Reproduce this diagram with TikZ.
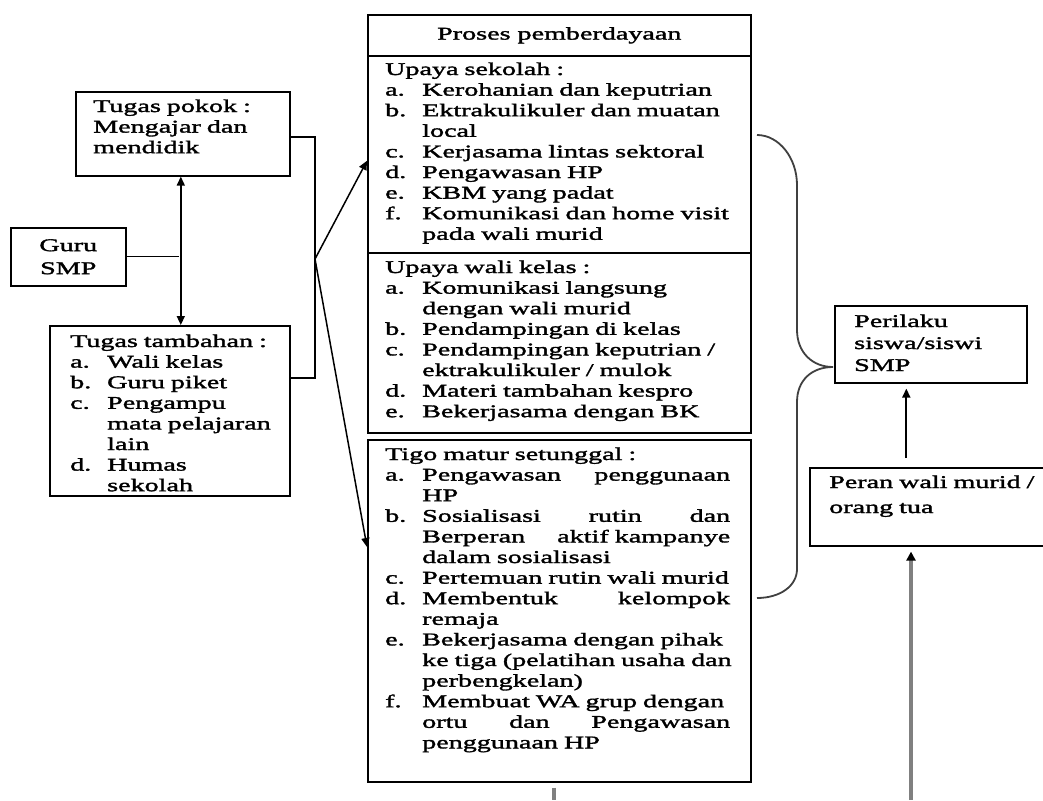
\documentclass[tikz,border=0pt]{standalone}
\usepackage{fontspec}
\setmainfont{Liberation Serif}[FakeStretch=1.57,FakeBold=1.8]
\usepackage{tikz}
\usetikzlibrary{arrows.meta,positioning,calc}

\newcommand{\lbl}[1]{\makebox[37pt][l]{#1}}
\newcommand{\cont}{\hspace*{37pt}}
\newcommand{\jl}[1]{\makebox[308pt][l]{#1}}

\begin{document}
\begin{tikzpicture}[x=1pt,y=-1pt,
  every node/.style={font=\fontsize{17.9}{20.6}\selectfont},
  frame/.style={draw,line width=1.6pt,inner sep=0pt,anchor=north west},
  txt/.style={inner sep=0pt,anchor=base west,align=left,text width=#1},
  tip/.style={-{Triangle[length=9pt,width=8pt]}},
  arr/.style={line width=1.5pt,tip},
  grayline/.style={line width=4pt,draw=black!50},
  brace/.style={line width=1.8pt,draw=black!75}]
\useasboundingbox (0,0) rectangle (1043,800);

% frames
\node[frame,minimum width=214,minimum height=84] (pokok) at (75,91) {};
\node[frame,minimum width=115,minimum height=58,align=center] (guru) at (10,227) {Guru\\[2.4pt] SMP};
\node[frame,minimum width=240,minimum height=170] (tambahan) at (49,325) {};
\node[frame,minimum width=383,minimum height=41] (header) at (367,14) {Proses pemberdayaan};
\node[frame,minimum width=383,minimum height=197] (sekolah) at (367,55) {};
\node[frame,minimum width=383,minimum height=180] (wali) at (367,252) {};
\node[frame,minimum width=383,minimum height=342] (tigo) at (367,439) {};
\node[frame,minimum width=192,minimum height=77] (perilaku) at (834,305) {};
\node[frame,minimum width=237,minimum height=78] (peran) at (809,467) {};

% texts
\node[txt=190] (pokoktxt) at (93,112) {Tugas pokok :\\ Mengajar dan\\ mendidik};
\node[txt=215] (tambahantxt) at (70,347) {Tugas tambahan :\\
  \lbl{a.}Wali kelas\\
  \lbl{b.}Guru piket\\
  \lbl{c.}Pengampu\\
  \cont mata pelajaran\\
  \cont lain\\
  \lbl{d.}Humas\\
  \cont sekolah};
\node[txt=362] (sekolahtxt) at (385,75) {Upaya sekolah :\\
  \lbl{a.}Kerohanian dan keputrian\\
  \lbl{b.}Ektrakulikuler dan muatan\\
  \cont local\\
  \lbl{c.}Kerjasama lintas sektoral\\
  \lbl{d.}Pengawasan HP\\
  \lbl{e.}KBM yang padat\\
  \lbl{f.}Komunikasi dan home visit\\
  \cont pada wali murid};
\node[txt=362] (walitxt) at (385,273) {Upaya wali kelas :\\
  \lbl{a.}Komunikasi langsung\\
  \cont dengan wali murid\\
  \lbl{b.}Pendampingan di kelas\\
  \lbl{c.}Pendampingan keputrian /\\
  \cont ektrakulikuler / mulok\\
  \lbl{d.}Materi tambahan kespro\\
  \lbl{e.}Bekerjasama dengan BK};
\node[txt=362] (tigotxt) at (385,460) {Tigo matur setunggal :\\
  \lbl{a.}\jl{Pengawasan\hfill penggunaan}\\
  \cont HP\\
  \lbl{b.}\jl{Sosialisasi\hfill rutin\hfill dan}\\
  \cont\jl{Berperan\hfill aktif kampanye}\\
  \cont dalam sosialisasi\\
  \lbl{c.}Pertemuan rutin wali murid\\
  \lbl{d.}\jl{Membentuk\hfill kelompok}\\
  \cont remaja\\
  \lbl{e.}Bekerjasama dengan pihak\\
  \cont ke tiga (pelatihan usaha dan\\
  \cont perbengkelan)\\
  \lbl{f.}Membuat WA grup dengan\\
  \cont\jl{ortu\hfill dan\hfill Pengawasan}\\
  \cont penggunaan HP};
\node[txt=170,font=\fontsize{17.9}{22}\selectfont] (perilakutxt) at (854,327) {Perilaku\\ siswa/siswi\\ SMP};
\node[txt=220,font=\fontsize{17.9}{25}\selectfont] (perantxt) at (829,488) {Peran wali murid /\\ orang tua};

% connectors
\coordinate (split) at (315,259);
\draw[line width=1.2pt] (guru.east) -- ([xshift=-4pt]guru.east -| pokok.south);
\draw[line width=1.5pt,{Triangle[length=9pt,width=8pt]}-{Triangle[length=9pt,width=8pt]}] ([xshift=-2pt]pokok.south) -- ([xshift=-2pt]pokok.south |- tambahan.north);
\draw[line width=1.4pt] ([yshift=-3pt]pokok.east) -| (split) |- ([yshift=33pt]tambahan.east);
\draw[arr] (split) -- ([yshift=-6.5pt]sekolah.west);
\draw[arr] (split) -- ([yshift=-108pt]tigo.north west);
\draw[arr,line width=2pt,shorten <=9pt,shorten >=5pt] ([xshift=-22pt]peran.north) -- ([xshift=-22pt]peran.north |- perilaku.south);

\coordinate (grayfoot) at (911,800);
\draw[grayline,-{Triangle[length=9pt,width=9pt,color=black]},shorten >=5pt] (grayfoot) -- (grayfoot |- peran.south);
\coordinate (stubfoot) at (554,800);
\draw[grayline,shorten <=5pt] (stubfoot |- tigo.south) -- (stubfoot);

% brace
\coordinate (bracetop) at (757,135);
\coordinate (bracetip) at (833,367);
\coordinate (bracebot) at (757,598);
\draw[brace] (bracetop) .. controls (779,135) and (797,158) .. (797,185) -- (797,330)
  .. controls (797,352) and (812,367) .. (bracetip)
  .. controls (812,367) and (797,380) .. (797,402) -- (797,569)
  .. controls (797,586) and (780,598) .. (bracebot);
\end{tikzpicture}
\end{document}
